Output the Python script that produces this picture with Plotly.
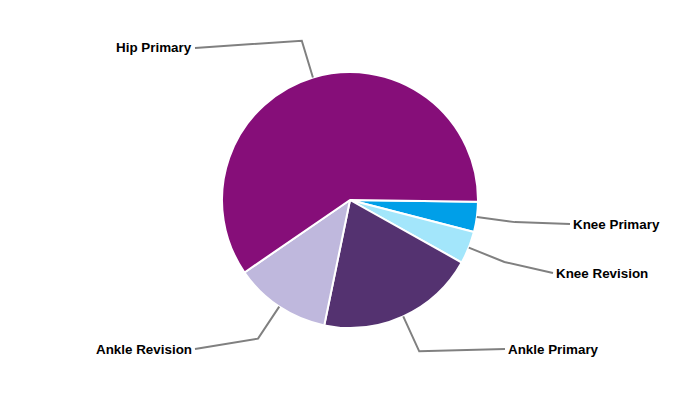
import math
import plotly.graph_objects as go

# ---- data ----
categories = ["Knee Primary", "Knee Revision", "Ankle Primary", "Ankle Revision", "Hip Primary"]
values = [3.8, 4.1, 20.1, 12.2, 59.8]
colors = ["#009FE8", "#A3E6FB", "#543270", "#BFB8DD", "#860E79"]

# ---- layout config (pixels in the browser window) ----
W, H = 700, 400
OFF = 8                  # default page body margin
CX, CY, R = 350, 200, 128
START_DEG = 0.8          # first slice starts slightly below 3 o'clock, clockwise
ELBOW = 1.3              # elbow radius factor
# end point of leader line (label anchor), side
label_anchor = {
    "Knee Primary": (570, 224, "left"),
    "Knee Revision": (553, 273, "left"),
    "Ankle Primary": (505, 349, "left"),
    "Ankle Revision": (195, 349, "right"),
    "Hip Primary": (195, 48, "right"),
}

def px(x):
    return (x - OFF) / W

def py(y):
    return 1 - (y - OFF) / H

fig = go.Figure(go.Pie(
    labels=categories,
    values=values,
    sort=False,
    direction="clockwise",
    rotation=90 + START_DEG,
    marker=dict(colors=colors, line=dict(color="white", width=2)),
    textinfo="none",
    hoverinfo="label+percent",
    showlegend=False,
    domain=dict(x=[px(CX - R), px(CX + R)], y=[py(CY + R), py(CY - R)]),
))

shapes = []
annotations = []
total = sum(values)
acc = START_DEG
for cat, v in zip(categories, values):
    span = v / total * 360
    mid = math.radians(acc + span / 2)
    acc += span
    x0, y0 = CX + R * math.cos(mid), CY + R * math.sin(mid)
    x1, y1 = CX + R * ELBOW * math.cos(mid), CY + R * ELBOW * math.sin(mid)
    lx, ly, side = label_anchor[cat]
    path = f"M {px(x0)} {py(y0)} L {px(x1)} {py(y1)} L {px(lx)} {py(ly)}"
    shapes.append(dict(type="path", path=path, xref="paper", yref="paper",
                       line=dict(color="#808080", width=2)))
    annotations.append(dict(
        x=px(lx + (1 if side == "left" else -1)), y=py(ly), xref="paper", yref="paper",
        text=f"<b>{cat}</b>", showarrow=False,
        xanchor=side, yanchor="middle",
        font=dict(family="Liberation Sans, Arial, sans-serif", size=13.4, color="#000000"),
    ))

fig.update_layout(
    width=W, height=H,
    margin=dict(l=0, r=0, t=0, b=0),
    paper_bgcolor="white",
    plot_bgcolor="white",
    shapes=shapes,
    annotations=annotations,
)

fig.write_html("out.html")
